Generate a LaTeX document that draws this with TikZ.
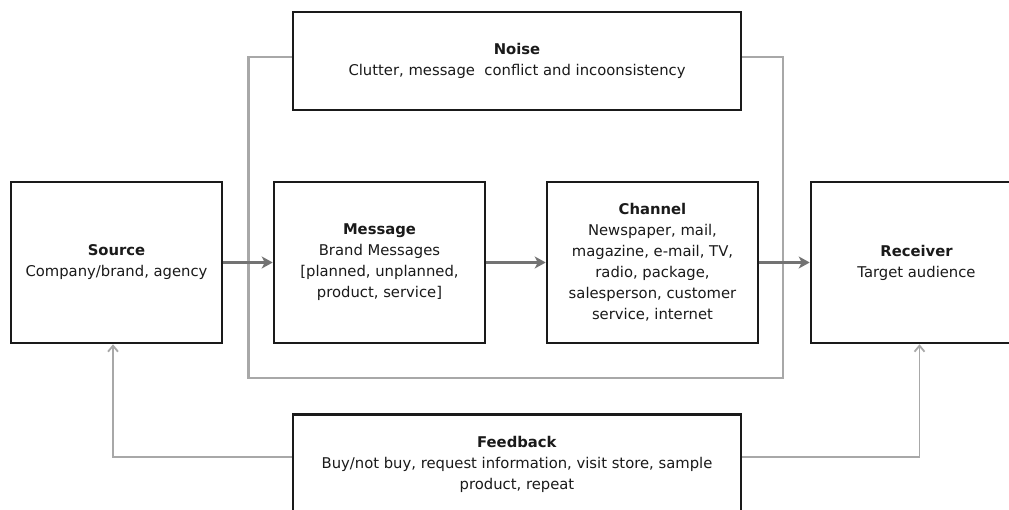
\documentclass[tikz,border=0pt]{standalone}
\usepackage{fontspec}
\setmainfont{DejaVu Sans}
\usepackage{tikz}
\usetikzlibrary{arrows.meta,positioning}
\definecolor{tinta}{HTML}{1A1A1A}
\definecolor{flecha}{HTML}{737373}
\definecolor{marco}{HTML}{A8A8A8}

\begin{document}
\begin{tikzpicture}[
    caja/.style={draw=tinta,line width=2.6pt,fill=white,minimum width=211pt,
                 minimum height=161pt,align=center,
                 font=\fontsize{14.8}{21}\selectfont\color{tinta}},
    paso/.style={->,flecha,line width=2.8pt,>={Stealth[length=11pt,width=12pt,inset=3pt]}},
    retorno/.style={->,marco,line width=1.8pt,>={Straight Barb[length=6pt,width=10pt]}},
    marcoruido/.style={marco,line width=2.2pt}]
  \clip (0,0) rectangle (1009pt,509pt);
  \fill[white] (0,0) rectangle (1009pt,509pt);
  % ruido y su marco
  \node[caja,minimum width=448pt,minimum height=98pt] (ruido) at (517pt,448pt)
    {\textbf{Noise}\\Clutter, message\ \ conflict and incoonsistency};
  \coordinate (mi) at (248.5pt,131pt);
  \coordinate (md) at (783pt,131pt);
  \draw[marcoruido] ([yshift=4pt]ruido.west) -| (mi) -- (md) |- ([yshift=4pt]ruido.east);
  % cadena principal
  \node[caja] (src) at (116.5pt,246.5pt) {\textbf{Source}\\Company/brand, agency};
  \node[caja,right=49.4pt of src] (msg) {\textbf{Message}\\Brand Messages\\
    {[}planned, unplanned,\\product, service{]}};
  \node[caja,right=59.4pt of msg] (chan) {\textbf{Channel}\\Newspaper, mail,\\
    magazine, e-mail, TV,\\radio, package,\\salesperson, customer\\service, internet};
  \node[caja,right=50.4pt of chan] (rcv) {\textbf{Receiver}\\Target audience};
  \draw[paso] (src) -- (msg);
  \draw[paso] (msg) -- (chan);
  \draw[paso] (chan) -- (rcv);
  % retroalimentacion
  \node[caja,minimum width=448pt,minimum height=100pt,anchor=north] (fback) at (517pt,96pt)
    {\textbf{Feedback}\\Buy/not buy, request information, visit store, sample\\product, repeat};
  \draw[retorno] ([yshift=-44pt]fback.north west) -| ([xshift=-3.5pt]src.south);
  \draw[retorno] ([yshift=-44pt]fback.north east) -| ([xshift=3pt]rcv.south);
\end{tikzpicture}
\end{document}
